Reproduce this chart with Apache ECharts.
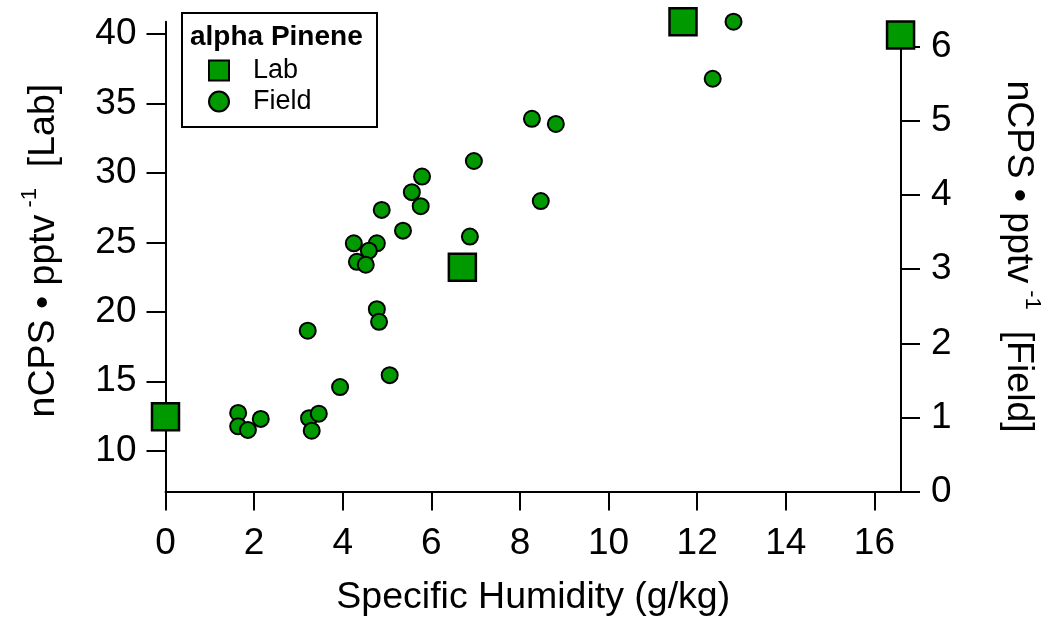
<!DOCTYPE html>
<html>
<head>
<meta charset="utf-8">
<script src="https://cdn.jsdelivr.net/npm/echarts@6/dist/echarts.min.js"></script>
<style>
  html, body { margin: 0; padding: 0; background: #ffffff; }
  #chart { width: 1047px; height: 619px; }
</style>
</head>
<body>
<div id="chart"></div>
<script>
// Lab calibration (left axis)
const labHumidity = [0.0, 6.70, 11.68, 16.59];
const labSensitivity = [12.45, 23.21, 40.9, 39.95];

// Field calibration (right axis)
const fieldHumidity = [1.64, 1.64, 1.86, 2.15, 3.21, 3.24, 3.46, 3.30, 3.94, 4.77,
  4.82, 5.06, 4.88, 4.25, 4.77, 4.59, 4.32, 4.52, 5.36, 5.56,
  5.76, 5.79, 6.87, 6.96, 8.27, 8.81, 8.47, 12.35, 12.82];
const fieldSensitivity = [1.06, 0.88, 0.83, 0.98, 2.17, 0.99, 1.05, 0.82, 1.41, 2.46,
  2.29, 1.57, 3.80, 3.35, 3.35, 3.25, 3.10, 3.06, 3.52, 4.04,
  3.85, 4.25, 3.44, 4.46, 5.03, 4.96, 3.92, 5.57, 6.34];

// Tick labels
const xTicks = [0, 2, 4, 6, 8, 10, 12, 14, 16];
const leftTicks = [10, 15, 20, 25, 30, 35, 40];
const rightTicks = [0, 1, 2, 3, 4, 5, 6];

const FONT = 'Liberation Sans, Arial, sans-serif';
const GREEN = '#009900';

const pair = (xs, ys) => xs.map((x, i) => [x, ys[i]]);

const axisCommon = {
  axisLine: { show: true, lineStyle: { color: '#000', width: 2 } },
  axisTick: { show: true, inside: false, length: 19, lineStyle: { color: '#000', width: 2 } },
  splitLine: { show: false },
  axisLabel: { color: '#000', fontSize: 37, fontFamily: FONT, margin: 29 }
};

const titleRich = {
  b: { fontSize: 37.5, fontFamily: FONT, color: '#000' },
  sup: { fontSize: 22, fontFamily: FONT, color: '#000', padding: [0, 0, 28, 7] }
};

const chart = echarts.init(document.getElementById('chart'), null, { renderer: 'canvas' });

chart.setOption({
  backgroundColor: '#ffffff',
  animation: false,
  grid: {
    left: 165.5, right: 146, top: 21.7, bottom: 127.5,
    containLabel: false,
    outerBoundsMode: 'none'
  },
  xAxis: {
    type: 'value',
    min: 0, max: 16.6,
    ...axisCommon,
    axisTick: { ...axisCommon.axisTick, customValues: xTicks },
    axisLabel: { ...axisCommon.axisLabel, customValues: xTicks, margin: 34 },
    name: 'Specific Humidity (g/kg)',
    nameLocation: 'middle',
    nameGap: 87,
    nameTextStyle: { fontSize: 37.5, fontFamily: FONT, color: '#000' }
  },
  yAxis: [
    {
      type: 'value',
      position: 'left',
      min: 7.06, max: 40.9,
      ...axisCommon,
      axisTick: { ...axisCommon.axisTick, customValues: leftTicks },
      axisLabel: { ...axisCommon.axisLabel, customValues: leftTicks },
      name: '{b|nCPS • pptv}{sup|-1}{b|  [Lab]}',
      nameLocation: 'middle',
      nameRotate: 90,
      nameGap: 97,
      nameTextStyle: { rich: titleRich, padding: [0, 0, 0, 12] }
    },
    {
      type: 'value',
      position: 'right',
      min: 0, max: 6.34,
      ...axisCommon,
      axisTick: { ...axisCommon.axisTick, customValues: rightTicks },
      axisLabel: { ...axisCommon.axisLabel, customValues: rightTicks, margin: 30 },
      name: '{b|nCPS • pptv}{sup|-1}{b|  [Field]}',
      nameLocation: 'middle',
      nameRotate: -90,
      nameGap: 92,
      nameTextStyle: { rich: titleRich }
    }
  ],
  legend: {
    orient: 'vertical',
    left: 208,
    top: 57,
    padding: 0,
    itemWidth: 20,
    itemHeight: 20,
    itemGap: 4,
    data: ['Lab', 'Field'],
    textStyle: { fontSize: 27, fontFamily: FONT, color: '#000', padding: [0, 0, 0, 19] }
  },
  graphic: [
    {
      type: 'rect',
      shape: { x: 182, y: 13, width: 195, height: 114 },
      style: { fill: '#fff', stroke: '#000', lineWidth: 2 },
      z: -1
    },
    {
      type: 'text',
      x: 190, y: 23,
      style: { text: 'alpha Pinene', font: 'bold 28px ' + FONT, fill: '#000' }
    }
  ],
  series: [
    {
      name: 'Field',
      type: 'scatter',
      yAxisIndex: 1,
      symbol: 'circle',
      symbolSize: 16,
      clip: false,
      itemStyle: { color: GREEN, borderColor: '#000', borderWidth: 2, opacity: 1 },
      data: pair(fieldHumidity, fieldSensitivity)
    },
    {
      name: 'Lab',
      type: 'scatter',
      yAxisIndex: 0,
      symbol: 'rect',
      symbolSize: 27,
      clip: false,
      itemStyle: { color: GREEN, borderColor: '#000', borderWidth: 2.5, opacity: 1 },
      data: pair(labHumidity, labSensitivity)
    }
  ]
});
</script>
</body>
</html>
